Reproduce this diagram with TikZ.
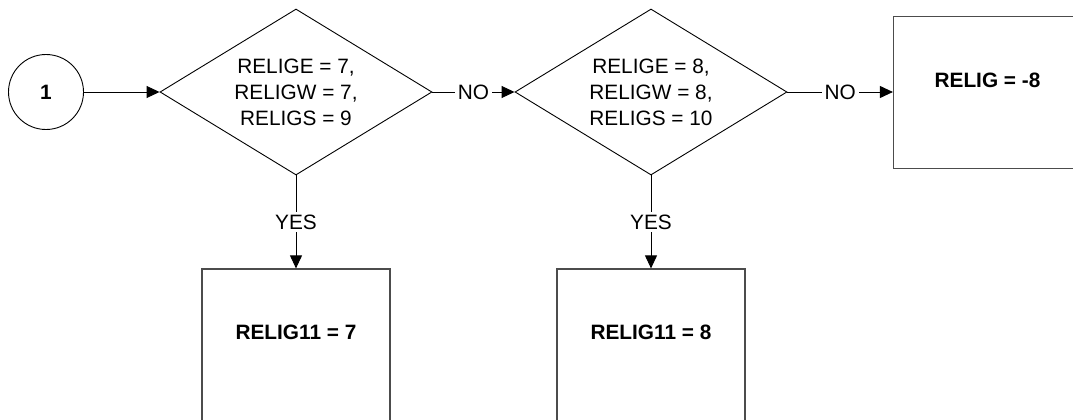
\documentclass[tikz,border=0pt]{standalone}
\usepackage{fontspec}
\setmainfont{Liberation Sans}
\usetikzlibrary{shapes.geometric,arrows.meta}
\begin{document}
\begin{tikzpicture}[x=1pt,y=-1pt,
  every node/.style={font=\fontsize{20.8}{26}\selectfont},
  decision/.style={diamond, draw=black, line width=0.9pt, minimum width=272pt, minimum height=166pt, aspect=1.64, inner sep=0pt, align=center},
  actionbox/.style={rectangle, draw=black!70, line width=1.2pt, minimum width=188pt, minimum height=152pt, inner sep=0pt},
  boxtext/.style={font=\bfseries\fontsize{20.8}{26}\selectfont},
  startcircle/.style={circle, draw=black, line width=0.9pt, minimum size=75pt, inner sep=0pt, font=\bfseries\fontsize{20.8}{26}\selectfont},
  flow/.style={draw=black, line width=0.9pt, -{Triangle[length=13pt, width=12pt]}},
  flowlabel/.style={fill=white, inner xsep=3pt, inner ysep=3pt}
]
\useasboundingbox (0,0) rectangle (1073,420);
\clip (0,0) rectangle (1073,420);

\node[startcircle] (c1) at (46,92) {1};
\node[decision] (d1) at (296,92) {RELIGE = 7,\\RELIGW = 7,\\RELIGS = 9};
\node[decision] (d2) at (651,92) {RELIGE = 8,\\RELIGW = 8,\\RELIGS = 10};

\node[actionbox] (b3) at (987.5,92.5) {};
\node[boxtext] (t3) at (987.5,80) {RELIG = -8};

\node[actionbox] (b1) at (296,345) {};
\node[boxtext] (t1) at (296,332) {RELIG11 = 7};

\node[actionbox] (b2) at (651,345) {};
\node[boxtext] (t2) at (651,332) {RELIG11 = 8};

\draw[flow] (c1) -- (d1.west);
\draw[flow] (d1.east) -- node[flowlabel] {NO} (d2.west);
\draw[flow] (d2.east) -- node[flowlabel] {NO} (b3.west |- d2.east);
\draw[flow] (d1.south) -- node[flowlabel] {YES} (b1.north);
\draw[flow] (d2.south) -- node[flowlabel] {YES} (b2.north);
\end{tikzpicture}
\end{document}
